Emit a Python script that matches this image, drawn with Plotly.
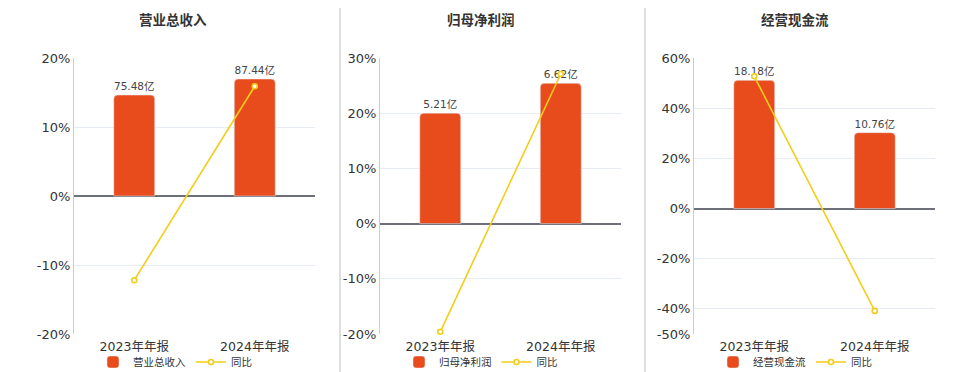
import plotly.graph_objects as go

categories = ["2023年年报", "2024年年报"]
titles = ["营业总收入", "归母净利润", "经营现金流"]
bar_names = ["营业总收入", "归母净利润", "经营现金流"]
revenue = [75.48, 87.44]
net_profit = [5.21, 6.62]
cash_flow = [18.18, 10.76]
revenue_yoy = [-12.2, 15.9]
profit_yoy = [-19.6, 27.1]
cash_yoy = [52.7, -40.8]
pct_ticks_1 = [-20, -10, 0, 10, 20]
pct_ticks_2 = [-20, -10, 0, 10, 20, 30]
pct_ticks_3 = [-50, -40, -20, 0, 20, 40, 60]

bars = [revenue, net_profit, cash_flow]
yoys = [revenue_yoy, profit_yoy, cash_yoy]
ticks = [pct_ticks_1, pct_ticks_2, pct_ticks_3]
# full bar-axis span (in 亿) shown over the plot height
bar_spans = [206.3, 13.02, 39.14]

BAR = "#e84b1c"
LINE = "#f3cd1a"
FONT = "DejaVu Sans, Noto Sans CJK SC, sans-serif"

W, H = 960, 372
MT, MB = 58, 38
PH = H - MT - MB


def py(pix):
    return (H - MB - pix) / PH


xdomains = [(74 / W, 315 / W), (380 / W, 621 / W), (694 / W, 935 / W)]
centers = [175 / W, 481 / W, 795 / W]

fig = go.Figure()
layout = dict(
    width=W, height=H,
    margin=dict(l=0, r=0, t=MT, b=MB, autoexpand=False),
    paper_bgcolor="white", plot_bgcolor="white",
    font=dict(family=FONT, color="#333"),
    showlegend=True,
    annotations=[], shapes=[],
)

for i in range(3):
    n = i + 1
    xa = "x" if n == 1 else f"x{n}"
    yb = "y" if n == 1 else f"y{n}"      # hidden bar axis (base)
    yp = f"y{n + 3}"                       # visible percent axis (overlay)
    t = ticks[i]
    lo, hi = t[0], t[-1]
    zero_frac = (0 - lo) / (hi - lo)
    span = bar_spans[i]
    leg = "legend" if n == 1 else f"legend{n}"

    fig.add_trace(go.Bar(
        x=[0, 1], y=bars[i], name=bar_names[i],
        marker=dict(color=BAR, cornerradius=4),
        width=0.34,
        text=[f"{v:.2f}亿" for v in bars[i]], textposition="outside",
        textfont=dict(size=10.5, color="#444", family=FONT),
        cliponaxis=False,
        xaxis=xa, yaxis=yb, legend=leg,
    ))
    fig.add_trace(go.Scatter(
        x=[0, 1], y=yoys[i], name="同比", mode="lines+markers",
        line=dict(color=LINE, width=1.6),
        marker=dict(symbol="circle", size=5, color="white", line=dict(color=LINE, width=1.6)),
        cliponaxis=False,
        xaxis=xa, yaxis=yp, legend=leg,
    ))

    layout["xaxis" if n == 1 else f"xaxis{n}"] = dict(
        domain=list(xdomains[i]), anchor=yb, range=[-0.5, 1.5],
        tickvals=[0, 1], ticktext=categories, showgrid=False, zeroline=False,
        showline=False, ticks="", tickfont=dict(size=12.5, color="#333"),
        ticklabelstandoff=3, fixedrange=True,
    )
    layout["yaxis" if n == 1 else f"yaxis{n}"] = dict(
        domain=[0, 1], anchor=xa,
        range=[-zero_frac * span, (1 - zero_frac) * span],
        showticklabels=False, showgrid=False, zeroline=False, showline=False,
        ticks="", fixedrange=True,
    )
    layout[f"yaxis{n + 3}"] = dict(
        overlaying=yb, anchor=xa, side="left", range=[lo, hi], tickvals=t,
        ticktext=[f"{v}%" for v in t], showgrid=True, gridcolor="#e6ebf4",
        gridwidth=1, zeroline=True, zerolinecolor="#6e7079", zerolinewidth=1.5,
        showline=True, linecolor="#c9ccd6", linewidth=1, ticks="",
        tickfont=dict(size=13, color="#333"), fixedrange=True,
    )
    layout[leg] = dict(
        orientation="h", x=centers[i], xanchor="center", y=py(362),
        yanchor="middle", font=dict(size=10.5, color="#333"),
        bgcolor="rgba(0,0,0,0)", itemwidth=30, tracegroupgap=0,
    )
    layout["annotations"].append(dict(
        text=f"<b>{titles[i]}</b>", x=[173 / W, 481 / W, 795 / W][i], y=py(19),
        xref="paper", yref="paper", xanchor="center", yanchor="middle",
        showarrow=False, font=dict(size=13.5, color="#333", family="Noto Sans CJK SC"),
    ))

for sx in [340 / W, 645 / W]:
    layout["shapes"].append(dict(
        type="line", xref="paper", yref="paper", x0=sx, x1=sx,
        y0=py(H), y1=py(8), line=dict(color="#d4d4d4", width=1.5),
    ))

fig.update_layout(**layout)
fig.write_html("out.html")
